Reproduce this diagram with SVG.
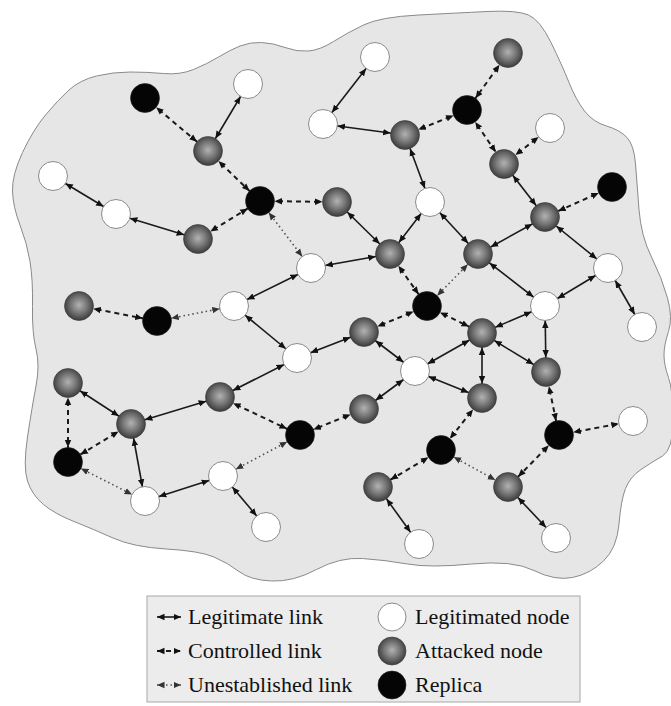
<svg xmlns="http://www.w3.org/2000/svg" width="671" height="706" viewBox="0 0 671 706">
<style>
.L{stroke:#1a1a1a;stroke-width:1.6;fill:none;marker-start:url(#ak);marker-end:url(#ak)}
.C{stroke:#1a1a1a;stroke-width:2;stroke-dasharray:5 4;fill:none;marker-start:url(#ak);marker-end:url(#ak)}
.U{stroke:#505050;stroke-width:1.6;stroke-dasharray:1.5 3;fill:none;marker-start:url(#ag);marker-end:url(#ag)}
.w{fill:#fff;stroke:#8a8a8a;stroke-width:1}
.g{fill:url(#gg);stroke:#3a3a3a;stroke-width:0.6}
.b{fill:#050505;stroke:#222;stroke-width:0.6}
.t{font-family:'Liberation Serif','DejaVu Serif','Times New Roman',serif;font-size:22px;fill:#111}
.lL{stroke:#1a1a1a;stroke-width:1.6;marker-start:url(#lk);marker-end:url(#lk)}
.lC{stroke:#1a1a1a;stroke-width:2;stroke-dasharray:5 4;marker-start:url(#lk);marker-end:url(#lk)}
.lU{stroke:#505050;stroke-width:1.6;stroke-dasharray:1.5 3;marker-start:url(#lg);marker-end:url(#lg)}
</style>
<defs>
<radialGradient id="gg" cx="50%" cy="47%" r="55%">
<stop offset="0" stop-color="#b2b2b2"/>
<stop offset="0.5" stop-color="#777"/>
<stop offset="1" stop-color="#363636"/>
</radialGradient>
<marker id="ak" viewBox="0 0 23 8" refX="22" refY="4" markerWidth="23" markerHeight="8" markerUnits="userSpaceOnUse" orient="auto-start-reverse"><path d="M0,0.8 L7.5,4 L0,7.2 z" fill="#111"/></marker>
<marker id="ag" viewBox="0 0 23 8" refX="22" refY="4" markerWidth="23" markerHeight="8" markerUnits="userSpaceOnUse" orient="auto-start-reverse"><path d="M0,0.8 L7.5,4 L0,7.2 z" fill="#333"/></marker>
<marker id="lk" viewBox="0 0 8 8" refX="7.5" refY="4" markerWidth="8" markerHeight="8" markerUnits="userSpaceOnUse" orient="auto-start-reverse"><path d="M0,0.8 L7.5,4 L0,7.2 z" fill="#111"/></marker>
<marker id="lg" viewBox="0 0 8 8" refX="7.5" refY="4" markerWidth="8" markerHeight="8" markerUnits="userSpaceOnUse" orient="auto-start-reverse"><path d="M0,0.8 L7.5,4 L0,7.2 z" fill="#333"/></marker>
</defs>
<rect width="671" height="706" fill="#fff"/>
<path id="field" d="M130,72 Q113,72 96.5,76 Q80,80 69,90 Q58,100 45.5,115 Q33,130 22.5,152.5 Q12,175 12.5,191 Q13,207 20,225 Q27,243 30,261.5 Q33,280 32.5,306.5 Q32,333 36,349 Q40,365 36,386 Q32,407 27.5,437 Q23,467 27.5,481 Q32,495 43.5,504.5 Q55,514 74,521.5 Q93,529 113,538 Q133,547 166.5,549 Q200,551 214,557 Q228,563 239,571.5 Q250,580 271.5,581 Q293,582 316.5,569.5 Q340,557 362.5,558.5 Q385,560 407.5,564 Q430,568 471.5,564 Q513,560 534,570.5 Q555,581 572.5,577.5 Q590,574 603.5,561 Q617,548 619,524 Q621,500 625.5,488.5 Q630,477 641,469.5 Q652,462 662.5,456 Q673,450 673,420 Q673,390 668.5,377.5 Q664,365 664,355 Q664,345 668.5,331.5 Q673,318 667.5,298 Q662,278 651.5,257 Q641,236 639,209.5 Q637,183 635.5,164 Q634,145 627,137.5 Q620,130 606.5,126 Q593,122 584.5,111 Q576,100 569,82.5 Q562,65 551,42.5 Q540,20 528.5,15 Q517,10 487,11.5 Q457,13 418.5,15 Q380,17 363.5,25 Q347,33 333.5,41.5 Q320,50 308.5,51 Q297,52 285,47.5 Q273,43 261.5,42.5 Q250,42 240,46 Q230,50 218.5,57 Q207,64 193.5,69.5 Q180,75 163.5,73.5 Q147,72 130,72 Z" fill="#e6e6e6" stroke="#8a8a8a" stroke-width="1"/>
<g id="connectors">
<line class="C" x1="145" y1="98" x2="208" y2="151"/>
<line class="L" x1="248" y1="84" x2="208" y2="151"/>
<line class="C" x1="208" y1="151" x2="260" y2="201"/>
<line class="L" x1="53" y1="176" x2="116" y2="214"/>
<line class="L" x1="116" y1="214" x2="198" y2="239"/>
<line class="C" x1="198" y1="239" x2="260" y2="201"/>
<line class="C" x1="260" y1="201" x2="337" y2="202"/>
<line class="U" x1="260" y1="201" x2="311" y2="268"/>
<line class="L" x1="234" y1="306" x2="311" y2="268"/>
<line class="L" x1="311" y1="268" x2="390" y2="254"/>
<line class="L" x1="323" y1="124" x2="375" y2="57"/>
<line class="L" x1="323" y1="124" x2="405" y2="135"/>
<line class="C" x1="508" y1="53" x2="467" y2="110"/>
<line class="C" x1="467" y1="110" x2="405" y2="135"/>
<line class="C" x1="467" y1="110" x2="504" y2="164"/>
<line class="C" x1="550" y1="128" x2="504" y2="164"/>
<line class="L" x1="405" y1="135" x2="430" y2="202"/>
<line class="L" x1="504" y1="164" x2="545" y2="217"/>
<line class="C" x1="612" y1="187" x2="545" y2="217"/>
<line class="L" x1="337" y1="202" x2="390" y2="254"/>
<line class="L" x1="430" y1="202" x2="390" y2="254"/>
<line class="L" x1="430" y1="202" x2="478" y2="254"/>
<line class="L" x1="478" y1="254" x2="545" y2="217"/>
<line class="L" x1="545" y1="217" x2="608" y2="268"/>
<line class="C" x1="390" y1="254" x2="427" y2="306"/>
<line class="U" x1="478" y1="254" x2="427" y2="306"/>
<line class="L" x1="478" y1="254" x2="545" y2="306"/>
<line class="L" x1="608" y1="268" x2="545" y2="306"/>
<line class="L" x1="608" y1="268" x2="642" y2="327"/>
<line class="C" x1="79" y1="306" x2="157" y2="321"/>
<line class="U" x1="157" y1="321" x2="234" y2="306"/>
<line class="L" x1="234" y1="306" x2="297" y2="358"/>
<line class="L" x1="364" y1="332" x2="297" y2="358"/>
<line class="L" x1="297" y1="358" x2="220" y2="397"/>
<line class="C" x1="220" y1="397" x2="300" y2="435"/>
<line class="C" x1="364" y1="409" x2="300" y2="435"/>
<line class="L" x1="220" y1="397" x2="131" y2="424"/>
<line class="L" x1="68" y1="383" x2="131" y2="424"/>
<line class="C" x1="68" y1="383" x2="68" y2="462"/>
<line class="C" x1="131" y1="424" x2="68" y2="462"/>
<line class="L" x1="131" y1="424" x2="145" y2="501"/>
<line class="U" x1="68" y1="462" x2="145" y2="501"/>
<line class="L" x1="145" y1="501" x2="223" y2="476"/>
<line class="U" x1="300" y1="435" x2="223" y2="476"/>
<line class="L" x1="223" y1="476" x2="266" y2="527"/>
<line class="C" x1="427" y1="306" x2="364" y2="332"/>
<line class="C" x1="427" y1="306" x2="482" y2="333"/>
<line class="L" x1="545" y1="306" x2="482" y2="333"/>
<line class="L" x1="545" y1="306" x2="546" y2="372"/>
<line class="L" x1="364" y1="332" x2="415" y2="371"/>
<line class="L" x1="415" y1="371" x2="482" y2="333"/>
<line class="L" x1="415" y1="371" x2="482" y2="398"/>
<line class="L" x1="415" y1="371" x2="364" y2="409"/>
<line class="L" x1="482" y1="333" x2="482" y2="398"/>
<line class="L" x1="482" y1="333" x2="546" y2="372"/>
<line class="C" x1="546" y1="372" x2="559" y2="435"/>
<line class="C" x1="559" y1="435" x2="633" y2="421"/>
<line class="C" x1="559" y1="435" x2="508" y2="487"/>
<line class="C" x1="482" y1="398" x2="441" y2="450"/>
<line class="U" x1="441" y1="450" x2="508" y2="487"/>
<line class="C" x1="441" y1="450" x2="378" y2="487"/>
<line class="L" x1="378" y1="487" x2="419" y2="544"/>
<line class="L" x1="508" y1="487" x2="556" y2="538"/>
</g>
<g id="nodes">
<g id="W1"><circle class="w" cx="248" cy="84" r="14.5"/></g>
<g id="W2"><circle class="w" cx="375" cy="57" r="14.5"/></g>
<g id="W3"><circle class="w" cx="323" cy="124" r="14.5"/></g>
<g id="W4"><circle class="w" cx="550" cy="128" r="14.5"/></g>
<g id="W5"><circle class="w" cx="53" cy="176" r="14.5"/></g>
<g id="W6"><circle class="w" cx="116" cy="214" r="14.5"/></g>
<g id="W7"><circle class="w" cx="430" cy="202" r="14.5"/></g>
<g id="W8"><circle class="w" cx="311" cy="268" r="14.5"/></g>
<g id="W9"><circle class="w" cx="608" cy="268" r="14.5"/></g>
<g id="W10"><circle class="w" cx="234" cy="306" r="14.5"/></g>
<g id="W11"><circle class="w" cx="545" cy="306" r="14.5"/></g>
<g id="W12"><circle class="w" cx="642" cy="327" r="14.5"/></g>
<g id="W13"><circle class="w" cx="297" cy="358" r="14.5"/></g>
<g id="W14"><circle class="w" cx="415" cy="371" r="14.5"/></g>
<g id="W15"><circle class="w" cx="633" cy="421" r="14.5"/></g>
<g id="W16"><circle class="w" cx="223" cy="476" r="14.5"/></g>
<g id="W17"><circle class="w" cx="145" cy="501" r="14.5"/></g>
<g id="W18"><circle class="w" cx="266" cy="527" r="14.5"/></g>
<g id="W19"><circle class="w" cx="419" cy="544" r="14.5"/></g>
<g id="W20"><circle class="w" cx="556" cy="538" r="14.5"/></g>
<g id="G1"><circle class="g" cx="508" cy="53" r="14.5"/></g>
<g id="G2"><circle class="g" cx="405" cy="135" r="14.5"/></g>
<g id="G3"><circle class="g" cx="208" cy="151" r="14.5"/></g>
<g id="G4"><circle class="g" cx="504" cy="164" r="14.5"/></g>
<g id="G5"><circle class="g" cx="337" cy="202" r="14.5"/></g>
<g id="G6"><circle class="g" cx="545" cy="217" r="14.5"/></g>
<g id="G7"><circle class="g" cx="198" cy="239" r="14.5"/></g>
<g id="G8"><circle class="g" cx="390" cy="254" r="14.5"/></g>
<g id="G9"><circle class="g" cx="478" cy="254" r="14.5"/></g>
<g id="G10"><circle class="g" cx="79" cy="306" r="14.5"/></g>
<g id="G11"><circle class="g" cx="364" cy="332" r="14.5"/></g>
<g id="G12"><circle class="g" cx="482" cy="333" r="14.5"/></g>
<g id="G13"><circle class="g" cx="546" cy="372" r="14.5"/></g>
<g id="G14"><circle class="g" cx="68" cy="383" r="14.5"/></g>
<g id="G15"><circle class="g" cx="220" cy="397" r="14.5"/></g>
<g id="G16"><circle class="g" cx="131" cy="424" r="14.5"/></g>
<g id="G17"><circle class="g" cx="364" cy="409" r="14.5"/></g>
<g id="G18"><circle class="g" cx="482" cy="398" r="14.5"/></g>
<g id="G19"><circle class="g" cx="378" cy="487" r="14.5"/></g>
<g id="G20"><circle class="g" cx="508" cy="487" r="14.5"/></g>
<g id="B1"><circle class="b" cx="145" cy="98" r="14.5"/></g>
<g id="B2"><circle class="b" cx="467" cy="110" r="14.5"/></g>
<g id="B3"><circle class="b" cx="260" cy="201" r="14.5"/></g>
<g id="B4"><circle class="b" cx="612" cy="187" r="14.5"/></g>
<g id="B5"><circle class="b" cx="157" cy="321" r="14.5"/></g>
<g id="B6"><circle class="b" cx="427" cy="306" r="14.5"/></g>
<g id="B7"><circle class="b" cx="300" cy="435" r="14.5"/></g>
<g id="B8"><circle class="b" cx="559" cy="435" r="14.5"/></g>
<g id="B9"><circle class="b" cx="441" cy="450" r="14.5"/></g>
<g id="B10"><circle class="b" cx="68" cy="462" r="14.5"/></g>
</g>
<g id="legend">
<rect x="147" y="596" width="433" height="106" fill="#ececec" stroke="#a8a8a8" stroke-width="1"/>
<line class="lL" x1="157" y1="617" x2="181" y2="617"/>
<line class="lC" x1="157" y1="651" x2="181" y2="651"/>
<line class="lU" x1="157" y1="685" x2="181" y2="685"/>
<text class="t" font-family="Liberation Serif, DejaVu Serif, serif" x="188" y="624">Legitimate link</text>
<text class="t" font-family="Liberation Serif, DejaVu Serif, serif" x="188" y="658">Controlled link</text>
<text class="t" font-family="Liberation Serif, DejaVu Serif, serif" x="188" y="692">Unestablished link</text>
<circle class="w" cx="392" cy="617" r="14"/>
<circle class="g" cx="392" cy="651" r="14"/>
<circle class="b" cx="392" cy="685" r="14"/>
<text class="t" font-family="Liberation Serif, DejaVu Serif, serif" x="415" y="624">Legitimated node</text>
<text class="t" font-family="Liberation Serif, DejaVu Serif, serif" x="415" y="658">Attacked node</text>
<text class="t" font-family="Liberation Serif, DejaVu Serif, serif" x="415" y="692">Replica</text>
</g>
</svg>
